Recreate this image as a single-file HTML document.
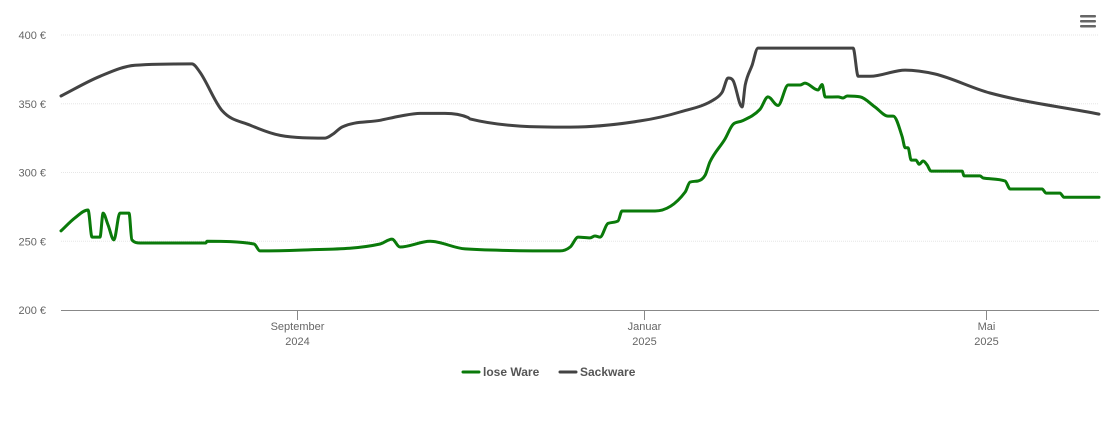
<!DOCTYPE html>
<html><head><meta charset="utf-8">
<style>
body{margin:0;background:#fff;font-family:"Liberation Sans",sans-serif;}
svg text{font-family:"Liberation Sans",sans-serif;}
</style></head>
<body>
<svg width="1110" height="422" id="chart">
<g fill="#666">
<rect x="1080" y="15" width="16" height="2.5" rx="1"/><rect x="1080" y="20" width="16" height="2.5" rx="1"/><rect x="1080" y="25" width="16" height="2.5" rx="1"/>
</g>
</svg>
<script>
const yTicks=[200,250,300,350,400];
const xTickDays=[83,205,325];
const xTickLabels=[["September","2024"],["Januar","2025"],["Mai","2025"]];
const seriesNames=["lose Ware","Sackware"];
const looseDays=[0,4.9,9.5,10.9,13.7,14.8,16.5,18.6,20.7,23.9,24.9,27.8,50.9,51.3,67.8,69.9,84,112.1,116.3,119.1,129.7,142,175.3,178.9,181.7,185.9,187.6,189.4,192.2,195.7,197.1,208.7,219.3,221,223.8,226.3,228,233.3,236.1,239.3,245.6,248.4,251.9,255.5,259.7,261.4,266,267.4,268.5,273,274.8,276.2,280.8,286,290.6,292.4,295.5,296.6,297.6,298.7,300.4,301.5,302.9,304.3,305.7,316.6,317.3,322.9,324,331.7,333.5,344.7,346.1,351,352.4,364.7];
const looseVals=[257.5,267,272.7,253,253,270.5,262,251,270.5,270.5,251,248.7,248.7,250,248,243,243.6,248,251.6,245.8,250,244.4,243,245.8,253,252.4,253.8,253,263,264.7,272,272,285.8,293,293.8,298,307.6,324.4,335,337.5,346,355,348.7,363.6,363.6,365,360,364,354.9,355,354.2,355.6,355,347.6,341,341,326.5,318,318,309,309,306,308.4,305.5,301,301,297.5,297.5,296,293.8,288,288,285,285,282,282];
const sackDays=[0,13.7,26,46,48.8,56.6,66.4,77,92.8,95.6,98.7,112.1,119.1,126.2,134.9,143,143.7,178.9,203.5,217.5,229.8,232.3,234.4,236.1,239.3,240.4,242.8,244.9,278.3,280.1,284.3,296.6,307.1,326.4,364.7];
const sackVals=[355.6,370,378,379,373,345,334.5,327,325,328,333,338,341,343,343,340,339,333,337.5,344,353.5,358.5,368.7,367,347.6,363.6,378,390.5,390.5,370,370,374.5,371.6,357.8,342.5];
const colors=["#0a7a0a","#434343"];
const NS="http://www.w3.org/2000/svg";
const svg=document.getElementById("chart");
const X0=61,X1=1099,DMAX=364.7;
function xs(d){return X0+(X1-X0)*d/DMAX;}
function ys(v){return 310-(v-200)*1.375;}
function mk(tag,attrs,parent){const e=document.createElementNS(NS,tag);for(const k in attrs)e.setAttribute(k,attrs[k]);(parent||svg).appendChild(e);return e;}
yTicks.forEach(v=>{
  if(v>200){const g=mk("line",{x1:X0,x2:X1,y1:ys(v),y2:ys(v),stroke:"#e6e6e6","stroke-width":1,"stroke-dasharray":"1,1"});
  
  }
  const t=mk("text",{x:46,y:ys(v)+4,"text-anchor":"end","font-size":11,fill:"#666"});
  t.textContent=v+" €";
  
  
});
const ax=mk("line",{x1:X0,x2:X1,y1:310.5,y2:310.5,stroke:"#888","stroke-width":1});


xTickDays.forEach((d,i)=>{
  const x=Math.round(xs(d))+0.5;
  const tk=mk("line",{x1:x,x2:x,y1:310,y2:320,stroke:"#888"});
  
  
  xTickLabels[i].forEach((s,j)=>{
    const t=mk("text",{x:x,y:330+j*15,"text-anchor":"middle","font-size":11,fill:"#666"});
    t.textContent=s;
    
    
  });
});
function monoPath(px,py){
  const n=px.length,m=[],dl=[];
  for(let i=0;i<n-1;i++)dl.push((py[i+1]-py[i])/(px[i+1]-px[i]));
  m[0]=dl[0];m[n-1]=dl[n-2];
  for(let i=1;i<n-1;i++)m[i]=(dl[i-1]*dl[i]<=0)?0:(dl[i-1]+dl[i])/2;
  for(let i=0;i<n-1;i++){if(dl[i]===0){m[i]=0;m[i+1]=0;continue;}
    const a=m[i]/dl[i],b=m[i+1]/dl[i],s=a*a+b*b;if(s>9){const t=3/Math.sqrt(s);m[i]=t*a*dl[i];m[i+1]=t*b*dl[i];}}
  let d="M"+px[0].toFixed(1)+","+py[0].toFixed(1);
  for(let i=0;i<n-1;i++){const h=(px[i+1]-px[i])/3;
    d+="C"+(px[i]+h).toFixed(1)+","+(py[i]+m[i]*h).toFixed(1)+" "+(px[i+1]-h).toFixed(1)+","+(py[i+1]-m[i+1]*h).toFixed(1)+" "+px[i+1].toFixed(1)+","+py[i+1].toFixed(1);}
  return d;
}
function line(days,vals,c,name){
  const d=monoPath(days.map(xs),vals.map(ys));
  const p=mk("path",{d:d,fill:"none",stroke:c,"stroke-width":3,"stroke-linejoin":"round","stroke-linecap":"round"});
  
  
}
line(sackDays,sackVals,colors[1],'sackware-line');
line(looseDays,looseVals,colors[0],'lose-ware-line');
const lx=[463,560];
seriesNames.forEach((n,i)=>{
  const g=mk("g",{});
  
  
  mk("line",{x1:lx[i],x2:lx[i]+16,y1:372,y2:372,stroke:colors[i],"stroke-width":3,"stroke-linecap":"round"},g);
  const t=mk("text",{x:lx[i]+20,y:376,"font-size":12,"font-weight":"bold",fill:"#555"},g);
  t.textContent=n;
});
</script>
</body></html>
